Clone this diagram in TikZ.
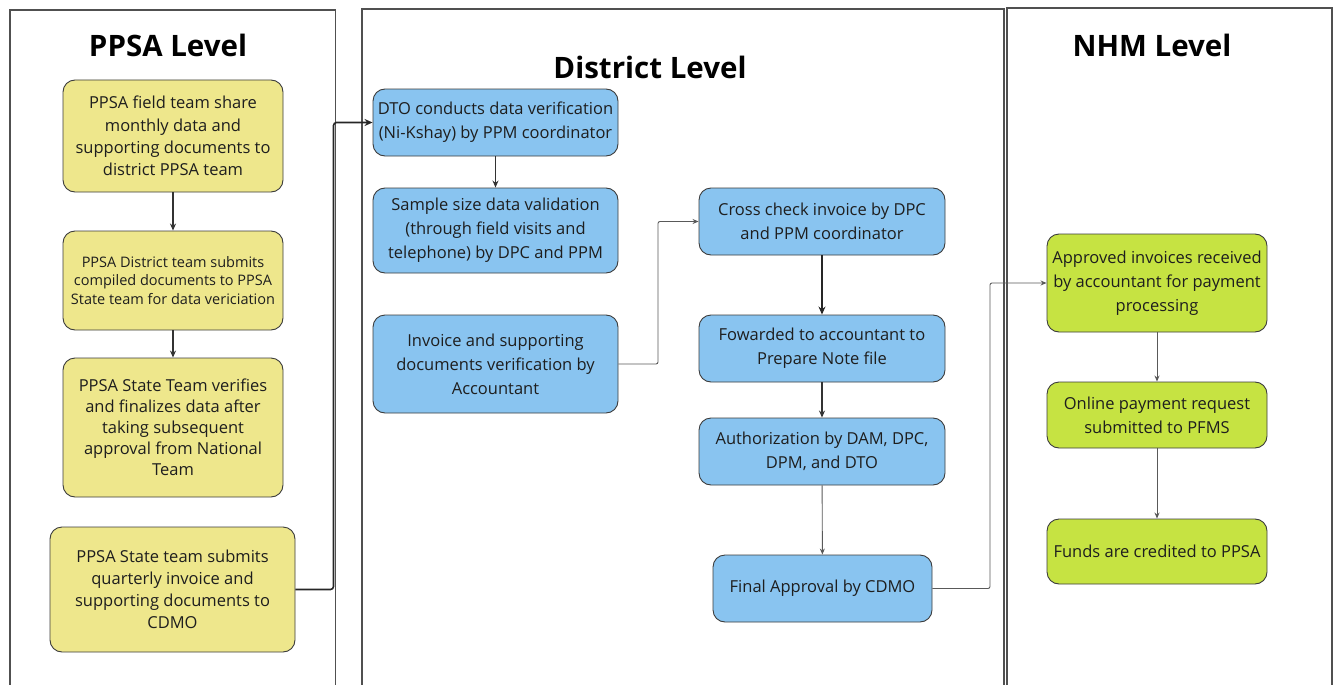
\documentclass[tikz,border=0pt]{standalone}
\usepackage{fontspec}
\setmainfont{Open Sans}
\usetikzlibrary{arrows.meta}
\definecolor{ylw}{RGB}{238,231,140}
\definecolor{blu}{RGB}{137,196,240}
\definecolor{grn}{RGB}{198,227,66}
\definecolor{edge}{RGB}{60,60,60}
\definecolor{txt}{RGB}{30,30,30}
\tikzset{
  box/.style={draw=edge, line width=0.9pt, rounded corners=12pt, align=center, inner sep=0pt, text=txt,
    font=\fontsize{16.5}{24}\selectfont},
  ybox/.style={box, fill=ylw},
  bbox/.style={box, fill=blu},
  gbox/.style={box, fill=grn},
  panel/.style={draw=edge!90, line width=1.3pt},
  head/.style={font=\fontsize{29.5}{34}\selectfont\bfseries, text=black},
  thick arrow/.style={draw=black!85, line width=1.6pt, rounded corners=3pt, -{Stealth[length=8pt,width=7pt]}},
  mid arrow/.style={draw=black!80, line width=1.2pt, -{Stealth[length=7pt,width=6pt]}},
  thin arrow/.style={draw=black!65, line width=0.9pt, rounded corners=2pt, -{Stealth[length=6pt,width=5pt]}},
}
\begin{document}
\begin{tikzpicture}[x=1pt,y=-1pt]
\useasboundingbox (0,0) rectangle (1336,685);
% panels
\draw[panel] (10,685) -- (10,10) -- (335.5,10) -- (335.5,685);
\draw[panel] (362,685) -- (362,9) -- (1004,9) -- (1004,685);
\draw[panel] (1007,685) -- (1007,8) -- (1332,8) -- (1332,685);
% headings
\node[head] (h1) at (168,45) {PPSA Level};
\node[head] (h2) at (650,67) {District Level};
\node[head] (h3) at (1152,45) {NHM Level};
% PPSA boxes
\node[ybox, minimum width=220pt, minimum height=112pt, font=\fontsize{16.5}{22.3}\selectfont] (y1) at (173,136)
  {PPSA field team share\\monthly data and\\supporting documents to\\district PPSA team};
\node[ybox, minimum width=220pt, minimum height=99pt, font=\fontsize{14.5}{18.5}\selectfont] (y2) at (173,280.5)
  {PPSA District team submits\\compiled documents to PPSA\\State team for data vericiation};
\node[ybox, minimum width=220pt, minimum height=139pt, font=\fontsize{16.5}{21}\selectfont] (y3) at (173,427.5)
  {PPSA State Team verifies\\and finalizes data after\\taking subsequent\\approval from National\\Team};
\node[ybox, minimum width=245pt, minimum height=125pt, font=\fontsize{16.5}{22}\selectfont] (y4) at (172.5,589.5)
  {PPSA State team submits\\quarterly invoice and\\supporting documents to\\CDMO};
% District boxes
\node[bbox, minimum width=245pt, minimum height=67pt] (b1) at (495.5,122.5)
  {DTO conducts data verification\\(Ni-Kshay) by PPM coordinator};
\node[bbox, minimum width=245pt, minimum height=85pt] (b2) at (495.5,230.5)
  {Sample size data validation\\(through field visits and\\telephone) by DPC and PPM};
\node[bbox, minimum width=245pt, minimum height=98pt] (b3) at (495.5,364)
  {Invoice and supporting\\documents verification by\\Accountant};
\node[bbox, minimum width=246pt, minimum height=67pt] (b4) at (822,221.5)
  {Cross check invoice by DPC\\and PPM coordinator};
\node[bbox, minimum width=246pt, minimum height=67pt] (b5) at (822,348.5)
  {Fowarded to accountant to\\Prepare Note file};
\node[bbox, minimum width=246pt, minimum height=67pt] (b6) at (822,451.5)
  {Authorization by DAM, DPC,\\DPM, and DTO};
\node[bbox, minimum width=219pt, minimum height=67pt] (b7) at (822.5,588.5)
  {Final Approval by CDMO};
% NHM boxes
\node[gbox, minimum width=220pt, minimum height=98pt] (g1) at (1157,283)
  {Approved invoices received\\by accountant for payment\\processing};
\node[gbox, minimum width=220pt, minimum height=66pt] (g2) at (1157,415)
  {Online payment request\\submitted to PFMS};
\node[gbox, minimum width=220pt, minimum height=65pt] (g3) at (1157,551.5)
  {Funds are credited to PPSA};
% connectors
\draw[mid arrow] (y1) -- (y2);
\draw[mid arrow] (y2) -- (y3);
\coordinate (c1) at (333.5,589.5);
\coordinate (c2) at (333.5,122.5);
\draw[thick arrow] (y4.east) -- (c1) -- (c2) -- (b1.west);
\draw[mid arrow] (b1) -- (b2);
\coordinate (c3) at (658,364);
\coordinate (c4) at (658,221.5);
\draw[thin arrow] (b3.east) -- (c3) -- (c4) -- (b4.west);
\draw[thick arrow] (b4) -- (b5);
\draw[mid arrow] (b5) -- (b6);
\draw[thin arrow] (b6) -- (b7);
\coordinate (c5) at (990,588.5);
\coordinate (c6) at (990,283);
\draw[thin arrow] (b7.east) -- (c5) -- (c6) -- (g1.west);
\draw[thin arrow] (g1) -- (g2);
\draw[thin arrow] (g2) -- (g3);
\end{tikzpicture}
\end{document}
